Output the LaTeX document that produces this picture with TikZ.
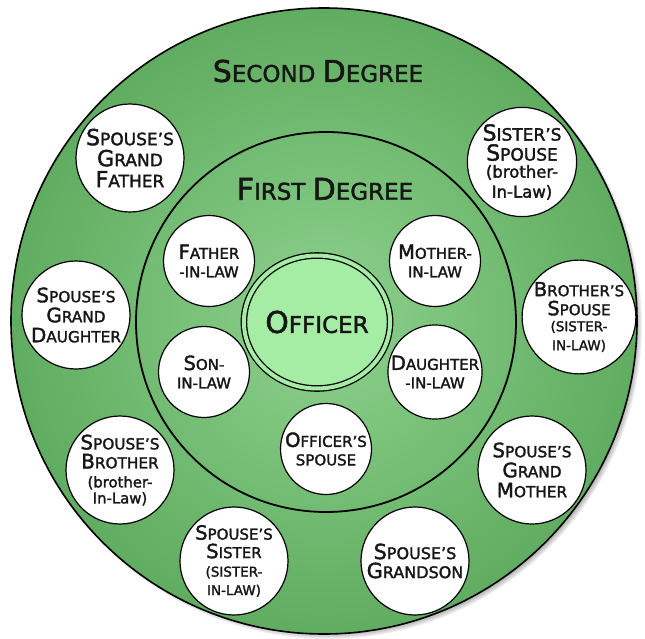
\documentclass[tikz,border=0pt]{standalone}
\usepackage{fontspec}
\setmainfont{DejaVu Sans}[BoldFont={DejaVu Sans},BoldFeatures={FakeBold=1.8}]
\usetikzlibrary{shapes.geometric}

\definecolor{ringdark}{RGB}{96,172,96}
\definecolor{ringlight}{RGB}{142,210,142}
\definecolor{officerfill}{RGB}{165,236,165}
\definecolor{inkgray}{RGB}{22,22,22}

\makeatletter
\newcommand\capl[1]{{\fontsize{\fpeval{1.3*\f@size}}{\f@baselineskip}\selectfont#1}}
\newcommand\parl[1]{{\fontsize{\fpeval{0.97*\f@size}}{\f@baselineskip}\selectfont#1}}
\newcommand\scl[1]{{\fontsize{\fpeval{0.9*\f@size}}{\f@baselineskip}\selectfont#1}}
\makeatother

\begin{document}
\begin{tikzpicture}[x=1pt,y=1pt,yscale=-1,
  outerbubble/.style={circle,draw=black,line width=1.2pt,fill=white,minimum size=108pt,
    inner sep=0pt,align=center,text=inkgray,font=\fontsize{17}{20}\selectfont\bfseries},
  innerbubble/.style={outerbubble,minimum size=91pt,font=\fontsize{15}{18.5}\selectfont\bfseries},
  degreelabel/.style={inner sep=0pt,text=inkgray,font=\fontsize{23}{26}\selectfont\bfseries}]
\useasboundingbox (0,0) rectangle (645,639);

% Shadow
\foreach \k in {0,...,6}
  \fill[black,opacity=0.055] (328,325) circle (308+\k);

% Circle Node
\node[circle,minimum size=626pt,inner sep=0pt,draw=black,line width=1.6pt,
  inner color=ringlight,outer color=ringdark] (second) at (324,321) {};
% Circle Node
\node[circle,minimum size=380pt,inner sep=0pt,draw=black,line width=1.8pt] (first) at (326,322) {};

% Text Node
\node[degreelabel] (secondlbl) at (318,71) {\capl{S}ECOND \capl{D}EGREE};
% Text Node
\node[degreelabel] (firstlbl) at (325,189) {\capl{F}IRST \capl{D}EGREE};

% Officer Node
\node[ellipse,minimum width=127pt,minimum height=133pt,inner sep=0pt,draw=black,line width=1.3pt,
  double=officerfill,double distance=4pt,fill=officerfill,text=inkgray,
  font=\fontsize{23}{26}\selectfont\bfseries] (officer) at (317,322) {\capl{O}FFICER};

% First degree nodes
\node[innerbubble] (fatherlaw) at (209,261) {\capl{F}ATHER\\-IN-LAW};
\node[innerbubble] (motherlaw) at (435,261) {\capl{M}OTHER-\\IN-LAW};
\node[innerbubble] (sonlaw) at (204,372) {\capl{S}ON-\\IN-LAW};
\node[innerbubble] (daughterlaw) at (435,372) {\capl{D}AUGHTER\\-IN-LAW};
\node[innerbubble] (spouse) at (326,449) {\capl{O}FFICER’S\\SPOUSE};

% Second degree nodes
\node[outerbubble] (spousegf) at (130,158) {\capl{S}POUSE’S\\[1pt]\capl{G}RAND\\[1pt]\capl{F}ATHER};
\node[outerbubble] (sisterspouse) at (522,162) {\capl{S}ISTER’S\\\capl{S}POUSE\\[-3pt]\parl{(brother-}\\\parl{In-Law)}};
\node[outerbubble,font=\fontsize{15.3}{19}\selectfont\bfseries] (spousegd) at (76,315) {\capl{S}POUSE’S\\[1pt]\capl{G}RAND\\[1pt]\capl{D}AUGHTER};
\node[outerbubble,font=\fontsize{15}{19}\selectfont\bfseries] (brotherspouse) at (579,317) {\capl{B}ROTHER’S\\\capl{S}POUSE\\[-3pt]\scl{(SISTER-}\\\scl{IN-LAW)}};
\node[outerbubble,font=\fontsize{15.3}{19}\selectfont\bfseries] (spousebrother) at (120,470) {\capl{S}POUSE’S\\\capl{B}ROTHER\\\parl{(brother-}\\[-3pt]\parl{In-Law)}};
\node[outerbubble,font=\fontsize{15.3}{19}\selectfont\bfseries] (spousegm) at (532,470) {\capl{S}POUSE’S\\[1pt]\capl{G}RAND\\[1pt]\capl{M}OTHER};
\node[outerbubble,font=\fontsize{15}{18.5}\selectfont\bfseries] (spousesister) at (234,561) {\capl{S}POUSE’S\\\capl{S}ISTER\\\scl{(SISTER-}\\\scl{IN-LAW)}};
\node[outerbubble,font=\fontsize{16}{19}\selectfont\bfseries] (spousegs) at (415,561) {\capl{S}POUSE’S\\\capl{G}RANDSON};

\end{tikzpicture}
\end{document}
